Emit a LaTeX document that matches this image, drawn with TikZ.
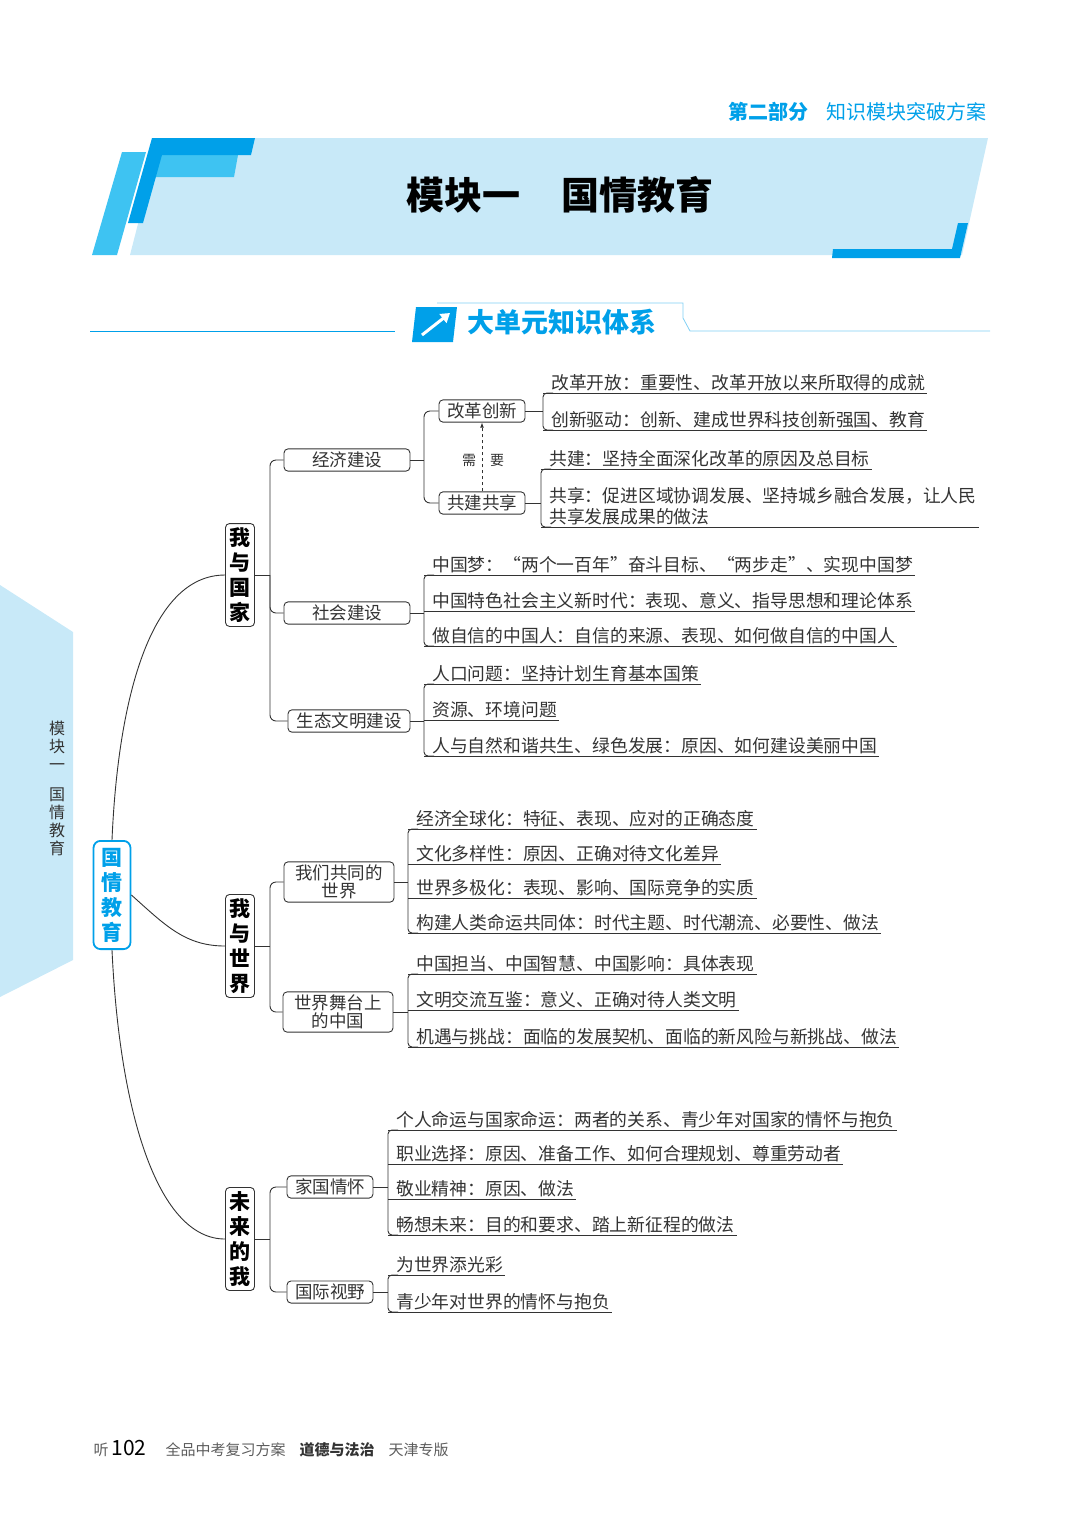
\documentclass[tikz,border=0pt]{standalone}
\usepackage{fontspec}
\setmainfont{Noto Sans CJK SC}
\usetikzlibrary{calc,arrows.meta}

\definecolor{cyanblue}{HTML}{00A0E9}
\definecolor{midblue}{HTML}{3EC3F2}
\definecolor{paleblue}{HTML}{C8E9F8}
\definecolor{inkgray}{HTML}{333333}

\tikzset{
	ln/.style = {draw = inkgray, line width = 0.9pt},
	box/.style = {draw = inkgray, line width = 0.9pt, rounded corners = 4pt, inner xsep = 8pt, inner ysep = 3pt, font = \fontsize{17.5}{19}\selectfont, text = inkgray, align = center},
	vbox/.style = {box, inner xsep = 4pt, inner ysep = 4pt, font = \fontsize{21}{25}\selectfont\bfseries, text = black},
	leaf/.style = {inner sep = 2pt, font = \fontsize{17.8}{21}\selectfont, text = inkgray, align = left}
}

% leaf text with underline: name, left x, underline y, text
\newcommand\leaf[4]{%
	\coordinate (#1-l) at (#2, #3);
	\node [leaf, anchor = south west] (#1) at (#2 + 6, #3) {#4};
	\draw [ln] (#1-l) -- (#1.south east);
}
% bracket joining the first and last leaf of a group
\newcommand\bracket[2]{%
	\draw [ln, rounded corners = 4pt] ($(#1-l) + (10, 0)$) -- (#1-l) -- (#2-l) -- ($(#2-l) + (10, 0)$);
}

\begin{document}
\begin{tikzpicture}[x = 1pt, y = -1pt, > = Latex]

	\useasboundingbox (0, 0) rectangle (1080, 1527);

	% Page header
	
	\node [anchor = base east, text = cyanblue, font = \fontsize{20}{22}\selectfont] (hdr) at (990, 119) {\textbf{第二部分}\hspace{18pt}知识模块突破方案};
	
	% Title banner
	
	\fill [paleblue] (160, 138) -- (988, 138) -- (962, 255) -- (130, 255) -- cycle;
	\fill [midblue] (122, 152) -- (146, 152) -- (117, 255) -- (92, 255) -- cycle;
	\fill [midblue] (160, 155) -- (238, 155) -- (234, 177) -- (154, 177) -- cycle;
	\fill [cyanblue] (152, 138) -- (255, 138) -- (251, 155) -- (162, 155) -- (143, 223) -- (128, 223) -- cycle;
	\fill [cyanblue] (958, 223) -- (968, 223) -- (960, 258) -- (832, 258) -- (833, 249) -- (952, 249) -- cycle;
	\node [font = \fontsize{38}{42}\selectfont\bfseries] (title) at (560, 195) {模块一\hspace{42pt}国情教育};
	
	% Section heading
	
	\draw [cyanblue, line width = 1pt] (90, 331) -- (395, 331);
	\draw [cyanblue!50, line width = 0.8pt] (437, 303) -- (683, 303) -- (683, 318) (683, 318) -- (690, 331) -- (990, 331);
	\fill [cyanblue] (416, 307) -- (457, 307) -- (453, 342) -- (412, 342) -- cycle;
	\draw [white, line width = 3pt, -{Triangle[length = 9pt, width = 11pt]}] (422, 335) -- (450, 313);
	\node [anchor = west, text = cyanblue, font = \fontsize{27}{29}\selectfont\bfseries] (sect) at (464, 322) {大单元知识体系};
	
	% Side tab
	
	\fill [paleblue] (0, 585) -- (73, 632) -- (73, 960) -- (0, 997) -- cycle;
	\node [text = inkgray, font = \fontsize{16}{18}\selectfont, align = center] (tab) at (57, 788) {模\\块\\一\\[12pt]国\\情\\教\\育};
	
	% Root and main branches
	
	\node [draw = cyanblue, line width = 1.8pt, rounded corners = 7pt, inner xsep = 8pt, inner ysep = 7pt, align = center, text = cyanblue, font = \fontsize{21}{25}\selectfont\bfseries] (root) at (112, 895) {国\\情\\教\\育};
	\node [vbox] (gj) at (240, 575) {我\\与\\国\\家};
	\node [vbox] (sj) at (240, 946) {我\\与\\世\\界};
	\node [vbox] (wl) at (240, 1239) {未\\来\\的\\我};
	
	\draw [ln] (root.north) .. controls (118, 700) and (150, 575) .. (gj.west);
	\draw [ln] (root.east) .. controls (165, 925) and (185, 946) .. (sj.west);
	\draw [ln] (root.south) .. controls (120, 1120) and (160, 1239) .. (wl.west);
	
	% 我与国家
	
	\node [box, minimum width = 126pt] (jjjs) at (347, 460) {经济建设};
	\node [box, minimum width = 126pt] (shjs) at (347, 613) {社会建设};
	\node [box, minimum width = 122pt] (stjs) at (349, 721) {生态文明建设};
	\coordinate (gjj) at (270, 575);
	\draw [ln] (gj.east) -- (gjj);
	\draw [ln, rounded corners = 6pt] (jjjs.west) -| (gjj) |- (stjs.west);
	\draw [ln, rounded corners = 6pt] (gjj) |- (shjs.west);
	
	\node [box] (ggcx) at (482, 411) {改革创新};
	\node [box] (gjgx) at (482, 503) {共建共享};
	\coordinate (jjj) at (424, 460);
	\draw [ln] (jjjs.east) -- (jjj);
	\draw [ln, rounded corners = 6pt] (ggcx.west) -| (jjj) |- (gjgx.west);
	\draw [inkgray, dashed, line width = 0.8pt, -{Latex[length = 5pt]}] (gjgx.north) -- (ggcx.south);
	\node [text = inkgray, font = \fontsize{14}{15}\selectfont] (xu) at (469, 460) {需};
	\node [text = inkgray, font = \fontsize{14}{15}\selectfont] (yao) at (497, 460) {要};
	
	\leaf{a1}{543}{393}{改革开放：重要性、改革开放以来所取得的成就}
	\leaf{a2}{543}{430}{创新驱动：创新、建成世界科技创新强国、教育}
	\bracket{a1}{a2}
	\draw [ln] (ggcx.east) -- (ggcx.east -| a1-l);
	
	\leaf{b1}{541}{469}{共建：坚持全面深化改革的原因及总目标}
	\leaf{b2}{541}{527}{共享：促进区域协调发展、坚持城乡融合发展，让人民\\共享发展成果的做法}
	\bracket{b1}{b2}
	\draw [ln] (gjgx.east) -- (gjgx.east -| b1-l);
	
	\leaf{c1}{424}{575}{中国梦：“两个一百年”奋斗目标、“两步走”、实现中国梦}
	\leaf{c2}{424}{611}{中国特色社会主义新时代：表现、意义、指导思想和理论体系}
	\leaf{c3}{424}{646}{做自信的中国人：自信的来源、表现、如何做自信的中国人}
	\bracket{c1}{c3}
	\draw [ln] (shjs.east) -- (shjs.east -| c1-l);
	
	\leaf{d1}{424}{684}{人口问题：坚持计划生育基本国策}
	\leaf{d2}{424}{720}{资源、环境问题}
	\leaf{d3}{424}{756}{人与自然和谐共生、绿色发展：原因、如何建设美丽中国}
	\bracket{d1}{d3}
	\draw [ln] (stjs.east) -- (stjs.east -| d1-l);
	
	% 我与世界
	
	\node [box, minimum width = 110pt, font = \fontsize{17.5}{18}\selectfont] (gtsj) at (339, 882) {我们共同的\\世界};
	\node [box, minimum width = 110pt, font = \fontsize{17.5}{18}\selectfont] (wtzg) at (338, 1012) {世界舞台上\\的中国};
	\coordinate (sjj) at (270, 946);
	\draw [ln] (sj.east) -- (sjj);
	\draw [ln, rounded corners = 6pt] (gtsj.west) -| (sjj) |- (wtzg.west);
	
	\leaf{e1}{408}{829}{经济全球化：特征、表现、应对的正确态度}
	\leaf{e2}{408}{864}{文化多样性：原因、正确对待文化差异}
	\leaf{e3}{408}{898}{世界多极化：表现、影响、国际竞争的实质}
	\leaf{e4}{408}{933}{构建人类命运共同体：时代主题、时代潮流、必要性、做法}
	\bracket{e1}{e4}
	\draw [ln] (gtsj.east) -- (gtsj.east -| e1-l);
	
	\leaf{f1}{408}{974}{中国担当、中国智慧、中国影响：具体表现}
	\leaf{f2}{408}{1010}{文明交流互鉴：意义、正确对待人类文明}
	\leaf{f3}{408}{1047}{机遇与挑战：面临的发展契机、面临的新风险与新挑战、做法}
	\bracket{f1}{f3}
	\draw [ln] (wtzg.east) -- (wtzg.east -| f1-l);
	
	% 未来的我
	
	\node [box] (jgqh) at (330, 1187) {家国情怀};
	\node [box] (gjsy) at (330, 1292) {国际视野};
	\coordinate (wlj) at (270, 1239);
	\draw [ln] (wl.east) -- (wlj);
	\draw [ln, rounded corners = 6pt] (jgqh.west) -| (wlj) |- (gjsy.west);
	
	\leaf{g1}{388}{1130}{个人命运与国家命运：两者的关系、青少年对国家的情怀与抱负}
	\leaf{g2}{388}{1164}{职业选择：原因、准备工作、如何合理规划、尊重劳动者}
	\leaf{g3}{388}{1199}{敬业精神：原因、做法}
	\leaf{g4}{388}{1235}{畅想未来：目的和要求、踏上新征程的做法}
	\bracket{g1}{g4}
	\draw [ln] (jgqh.east) -- (jgqh.east -| g1-l);
	
	\leaf{h1}{388}{1275}{为世界添光彩}
	\leaf{h2}{388}{1312}{青少年对世界的情怀与抱负}
	\bracket{h1}{h2}
	\draw [ln] (gjsy.east) -- (gjsy.east -| h1-l);
	
	% Page footer
	
	\node [anchor = base west, text = inkgray!80, font = \fontsize{15}{17}\selectfont] (ting) at (90, 1455) {听};
	\node [anchor = base west, font = \fontsize{21}{22}\selectfont] (pg) at (108, 1455) {102};
	\node [anchor = base west, text = inkgray!80, font = \fontsize{15}{17}\selectfont] (foot) at (162, 1455) {全品中考复习方案\hspace{14pt}{\color{inkgray}\bfseries 道德与法治}\hspace{14pt}天津专版};

\end{tikzpicture}
\end{document}
